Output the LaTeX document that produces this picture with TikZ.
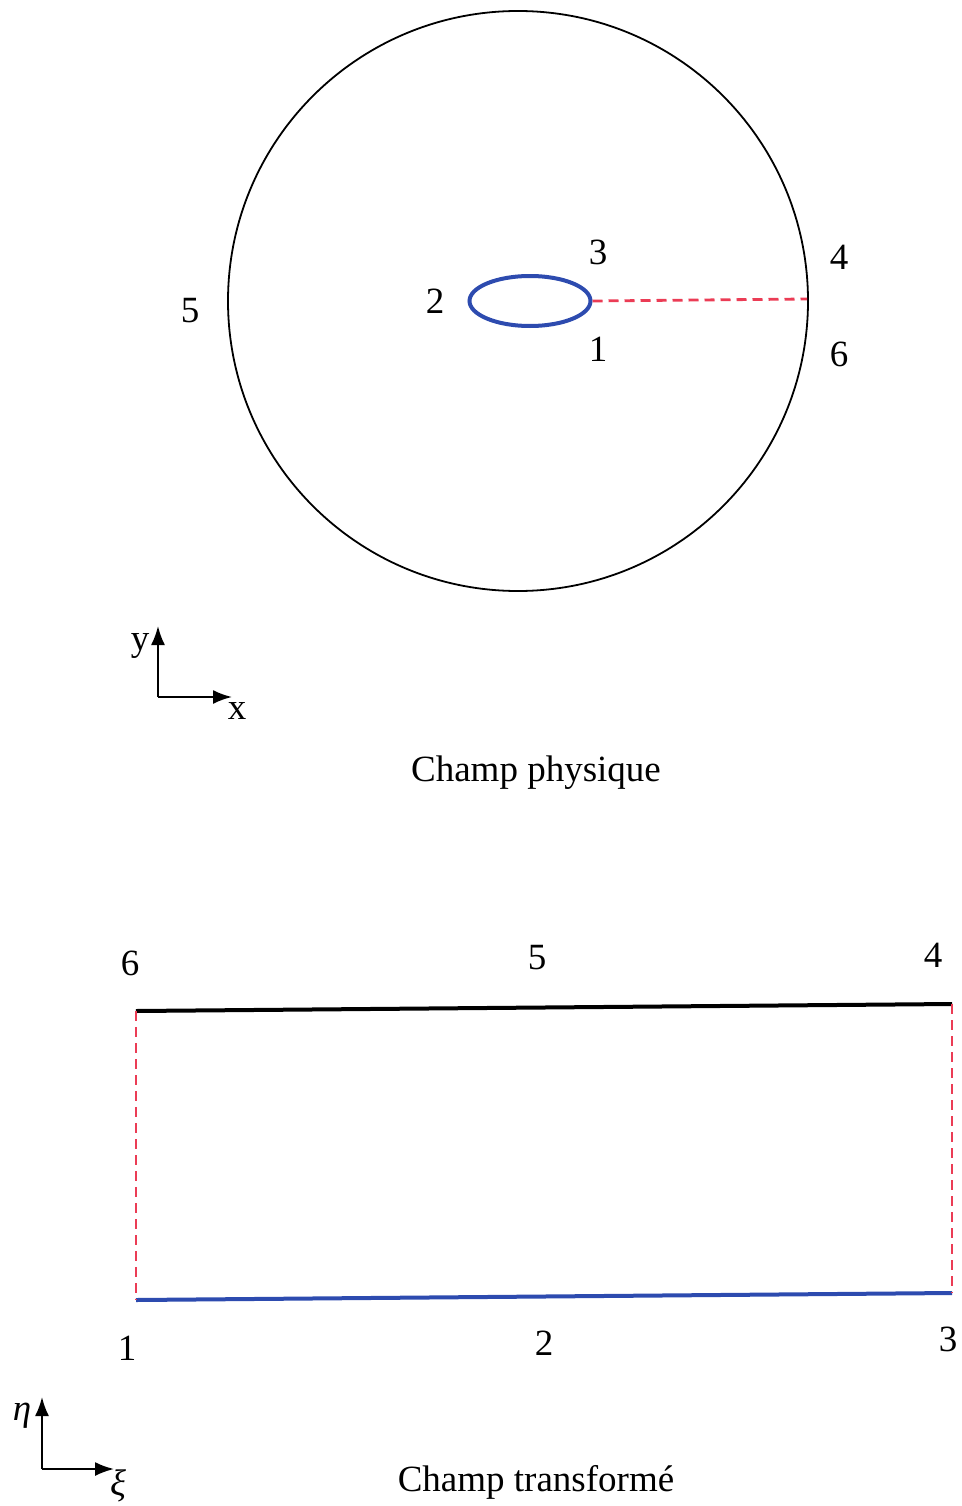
\documentclass[tikz,border=0pt]{standalone}
\usepackage{fontspec}
\setmainfont{Liberation Serif}
\usepackage{xcolor}
\usepackage{tikz}
\usetikzlibrary{arrows.meta,positioning,calc,shapes.geometric}

\definecolor{holeblue}{RGB}{45,75,175}
\definecolor{cutred}{RGB}{235,60,85}

\begin{document}
\begin{tikzpicture}[>=Latex, x=1pt, y=-1pt,
    lbl/.style={font=\fontsize{37}{44}\selectfont, inner sep=0pt},
    cut/.style={cutred, line width=2.8pt, dash pattern=on 10pt off 6pt},
    axis/.style={->, line width=2pt, >={Latex[length=19pt,width=14pt]}}]
    \useasboundingbox (0,0) rectangle (961,1506);

    % champ physique
    \coordinate (C) at (518,301);
    \draw[line width=1.8pt] (C) circle (290);
    \node[draw=holeblue, line width=4pt, ellipse, minimum width=121pt,
        minimum height=50pt, inner sep=0pt] (hole) at (530,301) {};
    \coordinate (R) at (807,299);
    \draw[cut] (hole.east) -- (R);

    \node[lbl] (p3) at (598,252) {3};
    \node[lbl] (p4) at (839,257) {4};
    \node[lbl] (p2) at (435,301) {2};
    \node[lbl] (p5) at (190,311) {5};
    \node[lbl] (p1) at (598,349) {1};
    \node[lbl] (p6) at (839,354) {6};

    \coordinate (O1) at (158,697);
    \coordinate (Y1) at (158,626);
    \coordinate (X1) at (232,697);
    \draw[axis] (O1) -- (Y1);
    \draw[axis] (O1) -- (X1);
    \node[lbl] (ylab) at (140,646) {y};
    \node[lbl] (xlab) at (237,711) {x};

    \node[lbl] (title1) at (536,773) {Champ physique};

    % champ transforme
    \coordinate (A) at (136,1011);
    \coordinate (B) at (952,1004);
    \coordinate (D) at (136,1300);
    \coordinate (E) at (952,1293);
    \draw[line width=4pt] (A) -- (B);
    \draw[holeblue, line width=4pt] (D) -- (E);
    \draw[cut] (A) -- (D);
    \draw[cut] (B) -- (E);

    \node[lbl] (q6) at (130,963) {6};
    \node[lbl] (q5) at (537,958) {5};
    \node[lbl] (q4) at (933,955) {4};
    \node[lbl] (q1) at (127,1348) {1};
    \node[lbl] (q2) at (544,1343) {2};
    \node[lbl] (q3) at (948,1339) {3};

    \coordinate (O2) at (42,1469);
    \coordinate (Y2) at (42,1397);
    \coordinate (X2) at (114,1469);
    \draw[axis] (O2) -- (Y2);
    \draw[axis] (O2) -- (X2);
    \node[lbl] (etalab) at (22,1416) {\itshape η};
    \node[lbl] (xilab) at (118,1486) {\itshape ξ};

    \node[lbl] (title2) at (536,1482) {Champ transformé};
\end{tikzpicture}
\end{document}
